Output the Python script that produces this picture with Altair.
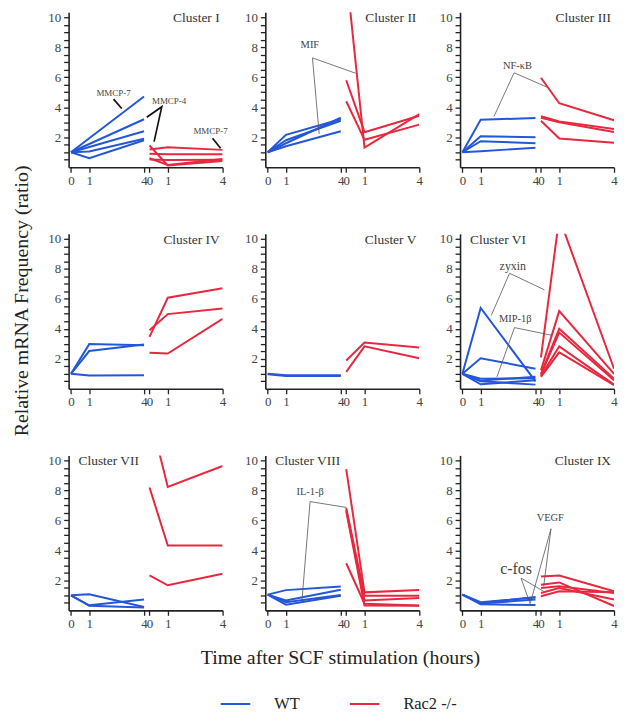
import altair as alt
import pandas as pd

SERIF = "Liberation Serif"
BLUE = "#2457d8"
RED = "#e8283e"
INK = "#222222"

GROUPS = ["WT", "Rac2 -/-"]
TIMES = [0, 1, 4]
RAC_SHIFT = 4.3
X_TICKS = [0, 1, 4, 4.3, 5.3, 8.3]
Y_TICKS = [0.5, 1, 1.5, 2, 2.5, 3, 3.5, 4, 4.5, 5, 5.5, 6, 6.5, 7, 7.5, 8, 8.5, 9, 9.5, 10]
Y_TITLE = "Relative mRNA Frequency (ratio)"
X_TITLE = "Time after SCF stimulation (hours)"

CLUSTERS = ["Cluster I", "Cluster II", "Cluster III", "Cluster IV", "Cluster V",
            "Cluster VI", "Cluster VII", "Cluster VIII", "Cluster IX"]
LABEL_SIDE = ["right", "right", "right", "right", "right", "left", "left", "left", "right"]

# values at 0, 1, 4 h (one list per gene)
WT_I = [[1.0, 1.93, 4.72], [1.0, 1.55, 3.2], [1.0, 1.35, 2.4], [1.0, 1.05, 1.9], [1.0, 0.6, 1.8]]
RAC_I = [[1.18, 1.33, 1.16], [0.9, 0.87, 0.87], [0.52, 0.48, 0.5], [0.6, 0.15, 0.55], [1.45, 0.12, 0.42]]
WT_II = [[1.0, 2.16, 3.2], [1.0, 1.8, 3.1], [1.0, 1.6, 3.3], [1.0, 1.4, 2.4]]
RAC_II = [[13.0, 1.31, 3.54], [5.8, 2.34, 3.43], [4.4, 1.83, 2.84]]
WT_III = [[1.0, 3.17, 3.28], [1.0, 2.07, 2.0], [1.0, 1.74, 1.6], [1.0, 1.07, 1.3]]
RAC_III = [[5.97, 4.27, 3.13], [3.4, 3.06, 2.55], [3.3, 3.0, 2.35], [3.1, 1.92, 1.63]]
WT_IV = [[1.0, 2.98, 2.91], [1.0, 2.52, 2.96], [1.0, 0.89, 0.91]]
RAC_IV = [[3.46, 6.07, 6.7], [3.9, 4.98, 5.35], [2.41, 2.35, 4.66]]
WT_V = [[1.0, 0.9, 0.9], [0.97, 0.85, 0.86]]
RAC_V = [[1.89, 3.09, 2.76], [1.13, 2.83, 2.04]]
WT_VI = [[1.0, 5.39, 0.5], [1.0, 2.04, 1.34], [1.0, 0.68, 0.7], [1.0, 0.55, 0.8], [1.0, 0.5, 0.28], [1.0, 0.3, 0.57]]
RAC_VI = [[2.1, 11.4, 1.34], [1.23, 5.18, 1.0], [1.0, 4.0, 0.68], [0.94, 3.75, 0.57], [0.85, 2.83, 0.28], [0.8, 2.43, 0.24]]
WT_VII = [[1.0, 1.07, 0.23], [1.0, 0.34, 0.72], [1.0, 0.3, 0.19]]
RAC_VII = [[13.1, 8.23, 9.62], [8.19, 4.32, 4.32], [2.33, 1.67, 2.44]]
WT_VIII = [[1.05, 1.35, 1.59], [1.05, 0.66, 1.37], [1.05, 0.55, 1.03], [1.05, 0.38, 0.98]]
RAC_VIII = [[9.42, 1.2, 1.35], [6.82, 0.98, 0.98], [6.7, 0.66, 0.83], [3.14, 0.44, 0.33], [6.6, 0.32, 0.3]]
WT_IX = [[1.05, 0.5, 0.9], [1.05, 0.46, 0.72], [1.05, 0.4, 0.35], [1.05, 0.55, 0.85]]
RAC_IX = [[2.26, 2.32, 1.27], [1.71, 1.86, 0.29], [1.49, 1.6, 1.16], [1.16, 1.49, 0.72], [0.94, 1.27, 1.2]]

WT_ALL = [WT_I, WT_II, WT_III, WT_IV, WT_V, WT_VI, WT_VII, WT_VIII, WT_IX]
RAC_ALL = [RAC_I, RAC_II, RAC_III, RAC_IV, RAC_V, RAC_VI, RAC_VII, RAC_VIII, RAC_IX]

# annotations (panel, text, x in panel units, value)
NOTES_SMALL = [("Cluster I", "MMCP-7", 2.33, 4.94), ("Cluster I", "MMCP-4", 5.37, 4.43),
               ("Cluster I", "MMCP-7", 7.64, 2.44)]
NOTES_MAIN = [("Cluster II", "MIF", 2.31, 8.17), ("Cluster III", "NF-κB", 3.01, 6.74),
              ("Cluster VI", "MIP-1β", 2.89, 4.67), ("Cluster VIII", "IL-1-β", 2.32, 7.9),
              ("Cluster IX", "VEGF", 4.81, 6.16)]
NOTES_MEDIUM = [("Cluster VI", "zyxin", 2.76, 8.18)]
NOTES_LARGE = [("Cluster IX", "c-fos", 2.94, 2.76)]

LEADERS_BOLD = [("Cluster I", [(2.33, 4.54), (2.78, 3.92)]),
                ("Cluster I", [(4.15, 3.33), (4.97, 4.03), (4.55, 1.71)]),
                ("Cluster I", [(7.75, 1.93), (8.19, 1.27)])]
LEADERS_THIN = [("Cluster II", [(2.82, 2.23), (2.45, 7.29), (4.81, 6.27)]),
                ("Cluster III", [(1.73, 3.39), (2.83, 6.3), (4.65, 5.33)]),
                ("Cluster VI", [(1.58, 4.89), (2.58, 7.7), (4.49, 6.6)]),
                ("Cluster VI", [(1.89, 0.79), (2.85, 4.08), (4.89, 3.57)]),
                ("Cluster VIII", [(1.87, 0.55), (2.32, 7.25), (4.31, 6.86)]),
                ("Cluster IX", [(3.72, 0.5), (4.85, 5.44), (4.45, 1.6)]),
                ("Cluster IX", [(3.72, 0.39), (3.21, 2.15), (4.45, 1.27)])]

W, H = 155, 156

XS = alt.Scale(domain=[-0.13, 8.3], nice=False, zero=False)
YS = alt.Scale(domain=[0, 10.33], nice=False, zero=False)
XAX = alt.Axis(values=X_TICKS, title=None, grid=False, labelOverlap=False, labelFlush=False,
               labelExpr="datum.value > 4.15 ? format(datum.value - 4.3, '.0f') : format(datum.value, '.0f')")
YAX = alt.Axis(values=Y_TICKS, title=None, grid=False, labelOverlap=False,
               labelExpr="datum.value % 2 == 0 ? format(datum.value, '.0f') : ''", labelPadding=3)
LEGEND = alt.Legend(orient="none", legendX=152, legendY=680, direction="horizontal", title=None,
                    symbolType="stroke", symbolSize=882, symbolStrokeWidth=2,
                    labelFont=SERIF, labelFontSize=16.5, labelColor=INK, labelOffset=23,
                    columnPadding=46)


def line_frame(wt, rac):
    recs = []
    for gname, lines, shift in (("WT", wt, 0.0), ("Rac2 -/-", rac, RAC_SHIFT)):
        for i, vals in enumerate(lines):
            for t, v in zip(TIMES, vals):
                recs.append({"group": gname, "line": f"{gname}{i}", "x": t + shift, "value": v})
    return pd.DataFrame(recs)


def enc_xy(ch):
    return ch.encode(x=alt.X("x:Q", scale=XS, axis=XAX), y=alt.Y("value:Q", scale=YS, axis=YAX))


def panel(k):
    name = CLUSTERS[k]
    df = line_frame(WT_ALL[k], RAC_ALL[k])
    lines = enc_xy(alt.Chart(df).mark_line(strokeWidth=2, clip=True)).encode(
        color=alt.Color("group:N", scale=alt.Scale(domain=GROUPS, range=[BLUE, RED]), legend=LEGEND),
        detail="line:N")
    layers = [lines]

    for leaders, width, col in ((LEADERS_THIN, 0.8, "#555555"), (LEADERS_BOLD, 1.7, "#111111")):
        recs = []
        for j, (c, pts) in enumerate(leaders):
            if c == name:
                for o, (px, py) in enumerate(pts):
                    recs.append({"lid": j, "k": o, "x": px, "value": py})
        if recs:
            layers.append(enc_xy(alt.Chart(pd.DataFrame(recs)).mark_line(
                color=col, strokeWidth=width, clip=True)).encode(detail="lid:N", order="k:Q"))

    for notes, size in ((NOTES_SMALL, 9), (NOTES_MAIN, 10.5), (NOTES_MEDIUM, 12), (NOTES_LARGE, 16)):
        recs = [{"label": t, "x": px, "value": py} for c, t, px, py in notes if c == name]
        if recs:
            layers.append(enc_xy(alt.Chart(pd.DataFrame(recs)).mark_text(
                font=SERIF, fontSize=size, color="#444444", align="center", baseline="middle")).encode(
                text="label:N"))

    side = LABEL_SIDE[k]
    lab = alt.Chart(pd.DataFrame({"name": [name]})).mark_text(
        font=SERIF, fontSize=13.5, color="#333333", align=side, baseline="middle").encode(
        text="name:N", x=alt.value(W - 3 if side == "right" else 10), y=alt.value(6))
    layers.append(lab)
    return alt.layer(*layers).properties(width=W, height=H)


panels = [panel(k) for k in range(9)]
grid = alt.concat(*panels, columns=3, spacing={"row": 45, "column": 16},
                  title=alt.TitleParams(X_TITLE, orient="bottom", anchor="middle", font=SERIF,
                                        fontSize=20, fontWeight="normal", color=INK, offset=18, dx=8))
ywrap = alt.vconcat(grid, title=alt.TitleParams(Y_TITLE, orient="left", anchor="middle", font=SERIF,
                                                 fontSize=20, fontWeight="normal", color=INK,
                                                 offset=16, dx=39))
chart = alt.vconcat(ywrap).properties(
    padding={"left": 3, "top": 0, "right": 0, "bottom": 0}
).configure_view(stroke=None).configure_axis(
    domainColor=INK, domainWidth=1.6, tickColor=INK, tickWidth=1.3, tickSize=5,
    labelFont=SERIF, labelFontSize=13, labelColor="#444444", labelPadding=2
)

chart.save("out.html", embed_options={"renderer": "svg", "actions": False})
